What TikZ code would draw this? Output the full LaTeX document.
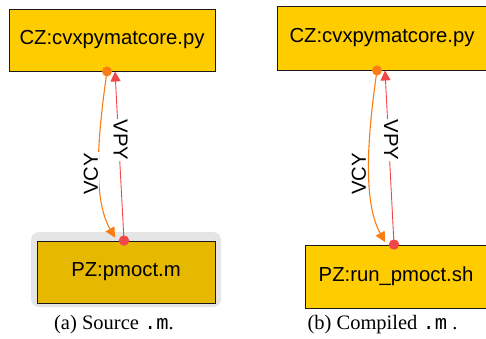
\documentclass[tikz,border=0pt]{standalone}
\usepackage{fontspec}
\setmainfont{Liberation Serif}
\setsansfont{Liberation Sans}
\setmonofont{Liberation Mono}
\usetikzlibrary{arrows.meta}
\definecolor{gold}{RGB}{255,204,0}
\definecolor{darkgold}{RGB}{230,184,0}
\definecolor{halo}{RGB}{229,229,229}
\definecolor{orangeln}{RGB}{250,125,20}
\definecolor{redln}{RGB}{240,72,72}
\tikzset{
  filebox/.style={draw=black!90, line width=0.9pt, fill=gold, minimum width=#1, inner sep=0pt, font=\sffamily\fontsize{20.3}{24}\selectfont},
  vcyline/.style={draw=orangeln, line width=1.1pt, -{Triangle[length=10pt,width=10pt]}},
  vpyline/.style={draw=redln, line width=0.9pt, -{Triangle[length=10pt,width=10pt]}},
  edgelabel/.style={fill=white, inner sep=1pt, font=\sffamily\fontsize{20.3}{24}\selectfont},
  caption/.style={font=\rmfamily\fontsize{20.5}{24}\selectfont, inner sep=0pt},
}
\begin{document}
\begin{tikzpicture}[x=1pt,y=-1pt]
\useasboundingbox (0,0) rectangle (486,339);
\clip (0,0) rectangle (486,339);
% left panel
\fill[halo, rounded corners=8pt] (31,232) rectangle (221,307);
\node[filebox=206pt, minimum height=62pt] (cz1) at (112,40) {CZ:cvxpymatcore.py};
\node[filebox=178pt, minimum height=62pt, fill=darkgold] (pz1) at (126,272) {PZ:pmoct.m};
\coordinate (o1s) at ([xshift=-5pt]cz1.south);
\coordinate (r1e) at ([xshift=3pt]cz1.south);
\coordinate (r1s) at ([xshift=-2pt]pz1.north);
\coordinate (o1e) at ([xshift=-11pt,yshift=3pt]pz1.north);
\draw[vcyline] (o1s) .. controls +(-10,69) and +(-22,-38) .. (o1e);
\draw[vpyline] (r1s) -- (r1e);
\node[edgelabel, rotate=90] (l1a) at (91,174) {VCY};
\node[edgelabel, rotate=-90] (l1b) at (120.5,140) {VPY};
\fill[orangeln] (o1s) circle (5pt);
\fill[redln] (r1s) circle (5.2pt);
\node[caption] (cap1) at (114,325) {(a) Source \texttt{.m}.};
% right panel
\node[filebox=210pt, minimum height=64pt] (cz2) at (382,38) {CZ:cvxpymatcore.py};
\node[filebox=182pt, minimum height=63pt] (pz2) at (396,276.5) {PZ:run\_pmoct.sh};
\coordinate (o2s) at ([xshift=-5pt]cz2.south);
\coordinate (r2e) at ([xshift=3pt]cz2.south);
\coordinate (r2s) at ([xshift=-2pt]pz2.north);
\coordinate (o2e) at ([xshift=-11pt,yshift=2.5pt]pz2.north);
\draw[vcyline] (o2s) .. controls +(-10,69) and +(-22,-40) .. (o2e);
\draw[vpyline] (r2s) -- (r2e);
\node[edgelabel, rotate=90] (l2a) at (359,174) {VCY};
\node[edgelabel, rotate=-90] (l2b) at (391,140) {VPY};
\fill[orangeln] (o2s) circle (5pt);
\fill[redln] (r2s) circle (5.2pt);
\node[caption] (cap2) at (382.5,325) {(b) Compiled \texttt{.m} .};
\end{tikzpicture}
\end{document}
